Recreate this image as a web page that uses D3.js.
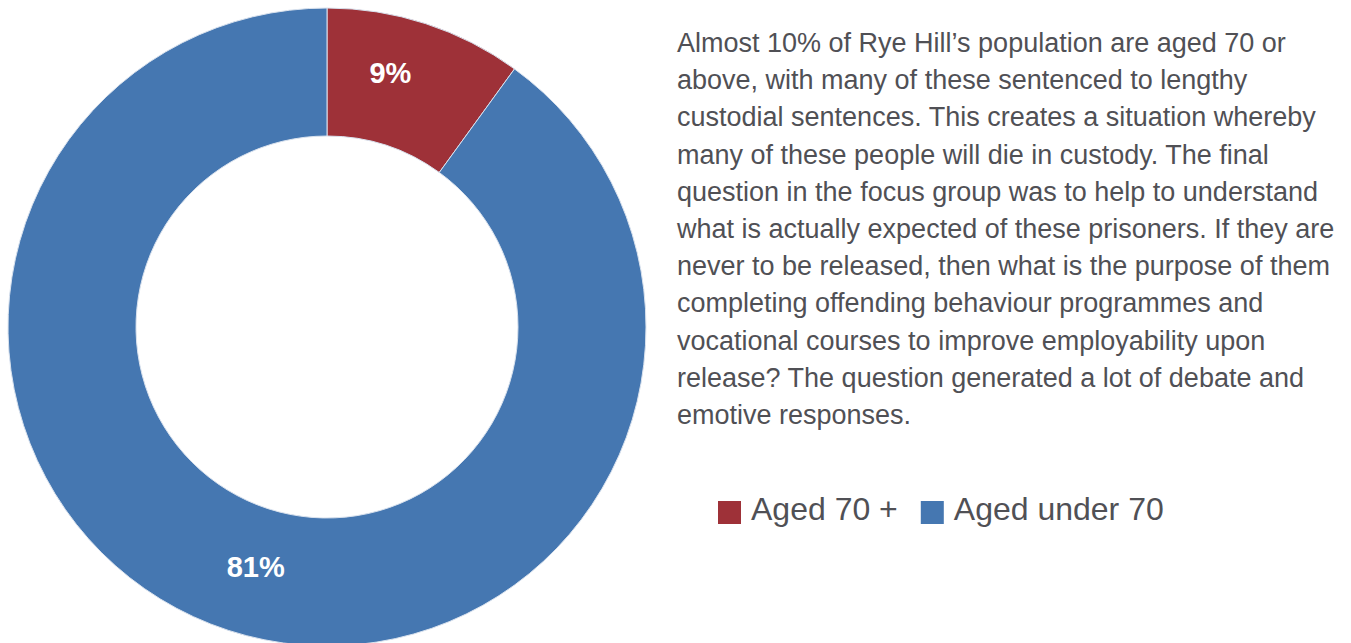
<!DOCTYPE html>
<html>
<head>
<meta charset="utf-8">
<script src="https://cdn.jsdelivr.net/npm/d3@7"></script>
<style>
  html, body { margin: 0; padding: 0; background: #ffffff; }
  svg { display: block; }
</style>
</head>
<body>
<svg id="chart" width="1351" height="643"></svg>
<script>
// Share of prisoners by age group
const categories = ["Aged 70 +", "Aged under 70"];
const values = [9, 81];
const valueLabels = ["9%", "81%"];
const colors = ["#9e3138", "#4577b1"];

const paragraph = [
  "Almost 10% of Rye Hill\u2019s population are aged 70 or",
  "above, with many of these sentenced to lengthy",
  "custodial sentences. This creates a situation whereby",
  "many of these people will die in custody. The final",
  "question in the focus group was to help to understand",
  "what is actually expected of these prisoners. If they are",
  "never to be released, then what is the purpose of them",
  "completing offending behaviour programmes and",
  "vocational courses to improve employability upon",
  "release? The question generated a lot of debate and",
  "emotive responses."
];

const svg = d3.select("#chart");
const font = "'Liberation Sans', Arial, Helvetica, sans-serif";

const cx = 327, cy = 327;
const outerR = 319, innerR = 191;

const pie = d3.pie().sort(null).value(d => d)(values);
const arc = d3.arc().innerRadius(innerR).outerRadius(outerR);

const g = svg.append("g").attr("transform", `translate(${cx},${cy})`);

g.selectAll("path.slice")
  .data(pie)
  .join("path")
  .attr("class", "slice")
  .attr("d", arc)
  .attr("fill", (d, i) => colors[i])
  .attr("stroke", "#d9e2ee")
  .attr("stroke-width", 1);

// value labels sit inside the ring
const labelR = [262, 250];
const labelShift = [-0.07, -0.025];
g.selectAll("text.val")
  .data(pie)
  .join("text")
  .attr("class", "val")
  .attr("x", (d, i) => labelR[i] * Math.sin((d.startAngle + d.endAngle) / 2 + labelShift[i]))
  .attr("y", (d, i) => -labelR[i] * Math.cos((d.startAngle + d.endAngle) / 2 + labelShift[i]))
  .attr("text-anchor", "middle")
  .attr("dominant-baseline", "central")
  .attr("font-family", font)
  .attr("font-weight", "bold")
  .attr("font-size", 29)
  .attr("fill", "#ffffff")
  .text((d, i) => valueLabels[i]);

// description paragraph
const para = svg.append("text")
  .attr("font-family", font)
  .attr("font-size", 27)
  .attr("fill", "#505055");
para.selectAll("tspan")
  .data(paragraph)
  .join("tspan")
  .attr("x", 677)
  .attr("y", (d, i) => 52 + i * 37.2)
  .text(d => d);

// legend
const legend = svg.append("g").attr("transform", "translate(718,501)");
let lx = 0;
categories.forEach((c, i) => {
  const item = legend.append("g").attr("transform", `translate(${lx},0)`);
  item.append("rect")
    .attr("width", 23).attr("height", 23)
    .attr("fill", colors[i]);
  const t = item.append("text")
    .attr("x", 33).attr("y", 19)
    .attr("font-family", font)
    .attr("font-size", 32)
    .attr("fill", "#505055")
    .text(c);
  lx += 33 + t.node().getComputedTextLength() + 23;
});
</script>
</body>
</html>
